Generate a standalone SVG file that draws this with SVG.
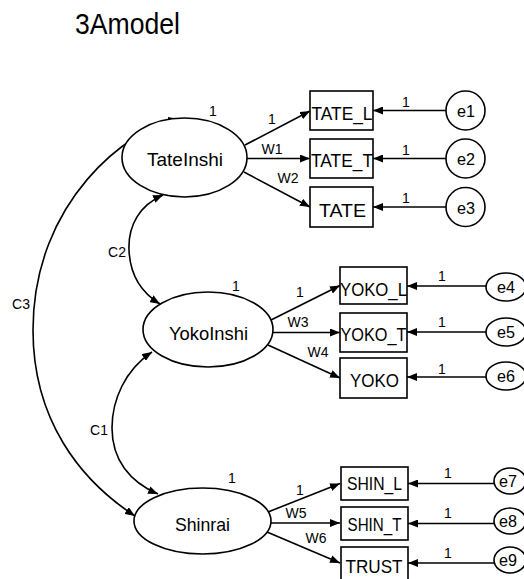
<svg xmlns="http://www.w3.org/2000/svg" width="524" height="579" viewBox="0 0 524 579">
<defs>
<marker id="ah" viewBox="0 0 10 8" refX="10" refY="4" markerWidth="10" markerHeight="8" markerUnits="userSpaceOnUse" orient="auto-start-reverse">
<path d="M0,0 L10,4 L0,8 z" fill="#000"/>
</marker>
<style>
text{font-family:"Liberation Sans",Arial,sans-serif;fill:#000}
.shape{fill:#fff;stroke:#000;stroke-width:1.6}
.line{fill:none;stroke:#000;stroke-width:1.6}
.arr{marker-end:url(#ah)}
.dbl{marker-start:url(#ah);marker-end:url(#ah)}
.lat{font-size:19px;text-anchor:middle}
.obs{font-size:19px;text-anchor:middle}
.err{font-size:17px;text-anchor:middle}
.lbl{font-size:14px;text-anchor:middle}
.clbl{font-size:14px;text-anchor:middle}
</style>
</defs>
<rect width="524" height="579" fill="#fff"/>
<text x="75" y="34" font-size="30" textLength="105" lengthAdjust="spacingAndGlyphs">3Amodel</text>

<g id="connectors">
<path class="line dbl" d="M178,119 C130,128 33,200 33,330 C33,420 80,480 135,516"/>
<path class="line dbl" d="M163,195 C140,205 128,225 129,250 C130,275 142,293 160,304"/>
<path class="line dbl" d="M152,352 C125,370 112,400 112,428 C112,460 130,482 158,494"/>
<path class="line arr" d="M245,145 L310,111"/>
<path class="line arr" d="M247,158.5 L310,158.5"/>
<path class="line arr" d="M244,172 L310,207"/>
<path class="line arr" d="M271,320 L340,285.5"/>
<path class="line arr" d="M273,332.5 L340,332.5"/>
<path class="line arr" d="M268,345 L340,378"/>
<path class="line arr" d="M268,512 L340,483.5"/>
<path class="line arr" d="M271,523 L340,523"/>
<path class="line arr" d="M267,532 L340,563"/>
<path class="line arr" d="M446,110.5 L373,110.5"/>
<path class="line arr" d="M446,158.5 L373,158.5"/>
<path class="line arr" d="M446,207 L373,207"/>
<path class="line arr" d="M486,286 L407,286"/>
<path class="line arr" d="M486,332 L407,332"/>
<path class="line arr" d="M486,377 L407,377"/>
<path class="line arr" d="M494,483.5 L408,483.5"/>
<path class="line arr" d="M494,523.5 L408,523.5"/>
<path class="line arr" d="M494,563 L408,563"/>
<text class="clbl" x="21" y="309">C3</text>
<text class="clbl" x="117" y="257">C2</text>
<text class="clbl" x="99" y="435">C1</text>
<text class="lbl" x="272" y="124">1</text>
<text class="lbl" x="272" y="154">W1</text>
<text class="lbl" x="288" y="183">W2</text>
<text class="lbl" x="300" y="297">1</text>
<text class="lbl" x="298" y="327">W3</text>
<text class="lbl" x="318" y="357">W4</text>
<text class="lbl" x="300" y="495">1</text>
<text class="lbl" x="296" y="518">W5</text>
<text class="lbl" x="316" y="543">W6</text>
<text class="lbl" x="406" y="107">1</text>
<text class="lbl" x="406" y="155">1</text>
<text class="lbl" x="406" y="203">1</text>
<text class="lbl" x="442" y="281">1</text>
<text class="lbl" x="442" y="327">1</text>
<text class="lbl" x="442" y="374">1</text>
<text class="lbl" x="448" y="478">1</text>
<text class="lbl" x="448" y="518">1</text>
<text class="lbl" x="448" y="558">1</text>
</g>

<g id="TateInshi">
<ellipse class="shape" cx="184.5" cy="157.5" rx="62.5" ry="39.5"/>
<text class="lat" x="185" y="165.5" textLength="76" lengthAdjust="spacingAndGlyphs">TateInshi</text>
<text class="lbl" x="213" y="116">1</text>
</g>
<g id="YokoInshi">
<ellipse class="shape" cx="208" cy="329.5" rx="65" ry="37.5"/>
<text class="lat" x="208.5" y="340" textLength="79" lengthAdjust="spacingAndGlyphs">YokoInshi</text>
<text class="lbl" x="236" y="291">1</text>
</g>
<g id="Shinrai">
<ellipse class="shape" cx="202.5" cy="521" rx="68.5" ry="33"/>
<text class="lat" x="202.5" y="531" textLength="55" lengthAdjust="spacingAndGlyphs">Shinrai</text>
<text class="lbl" x="232" y="483">1</text>
</g>

<g id="TATE_L">
<rect class="shape" x="310" y="91" width="63" height="39"/>
<text class="obs" x="342" y="120" textLength="61" lengthAdjust="spacingAndGlyphs">TATE_L</text>
</g>
<g id="TATE_T">
<rect class="shape" x="310" y="139" width="63" height="39"/>
<text class="obs" x="342" y="167" textLength="62" lengthAdjust="spacingAndGlyphs">TATE_T</text>
</g>
<g id="TATE">
<rect class="shape" x="310" y="187" width="63" height="40"/>
<text class="obs" x="342.5" y="217" textLength="47" lengthAdjust="spacingAndGlyphs">TATE</text>
</g>
<g id="YOKO_L">
<rect class="shape" x="340" y="267" width="67" height="37"/>
<text class="obs" x="373.5" y="296" textLength="67" lengthAdjust="spacingAndGlyphs">YOKO_L</text>
</g>
<g id="YOKO_T">
<rect class="shape" x="340" y="313" width="67" height="39"/>
<text class="obs" x="373.5" y="341" textLength="66" lengthAdjust="spacingAndGlyphs">YOKO_T</text>
</g>
<g id="YOKO">
<rect class="shape" x="340" y="358" width="67" height="40"/>
<text class="obs" x="374.5" y="387" textLength="49" lengthAdjust="spacingAndGlyphs">YOKO</text>
</g>
<g id="SHIN_L">
<rect class="shape" x="341" y="467" width="67" height="33"/>
<text class="obs" x="374.5" y="490" textLength="55" lengthAdjust="spacingAndGlyphs">SHIN_L</text>
</g>
<g id="SHIN_T">
<rect class="shape" x="341" y="507" width="67" height="33"/>
<text class="obs" x="374.5" y="531" textLength="54" lengthAdjust="spacingAndGlyphs">SHIN_T</text>
</g>
<g id="TRUST">
<rect class="shape" x="341" y="547" width="67" height="34"/>
<text class="obs" x="374" y="573" textLength="57" lengthAdjust="spacingAndGlyphs">TRUST</text>
</g>

<g id="e1">
<circle class="shape" cx="465.5" cy="110.5" r="19.5"/>
<text class="err" x="466" y="117" textLength="18" lengthAdjust="spacingAndGlyphs">e1</text>
</g>
<g id="e2">
<circle class="shape" cx="465.5" cy="158.5" r="19.5"/>
<text class="err" x="466" y="165" textLength="18" lengthAdjust="spacingAndGlyphs">e2</text>
</g>
<g id="e3">
<circle class="shape" cx="465.5" cy="207" r="19.5"/>
<text class="err" x="466" y="213.5" textLength="18" lengthAdjust="spacingAndGlyphs">e3</text>
</g>
<g id="e4">
<ellipse class="shape" cx="506" cy="287" rx="20" ry="14"/>
<text class="err" x="506" y="293" font-size="16" textLength="18" lengthAdjust="spacingAndGlyphs">e4</text>
</g>
<g id="e5">
<ellipse class="shape" cx="506" cy="332" rx="20" ry="14"/>
<text class="err" x="506" y="338" font-size="16" textLength="18" lengthAdjust="spacingAndGlyphs">e5</text>
</g>
<g id="e6">
<ellipse class="shape" cx="506" cy="376" rx="20" ry="14"/>
<text class="err" x="506" y="382" font-size="16" textLength="18" lengthAdjust="spacingAndGlyphs">e6</text>
</g>
<g id="e7">
<ellipse class="shape" cx="510" cy="481" rx="16" ry="13"/>
<text class="err" x="508" y="487" font-size="16" textLength="18" lengthAdjust="spacingAndGlyphs">e7</text>
</g>
<g id="e8">
<ellipse class="shape" cx="510" cy="521" rx="16" ry="13"/>
<text class="err" x="508" y="527" font-size="16" textLength="18" lengthAdjust="spacingAndGlyphs">e8</text>
</g>
<g id="e9">
<ellipse class="shape" cx="510" cy="560" rx="16" ry="13"/>
<text class="err" x="508" y="566" font-size="16" textLength="18" lengthAdjust="spacingAndGlyphs">e9</text>
</g>
</svg>
